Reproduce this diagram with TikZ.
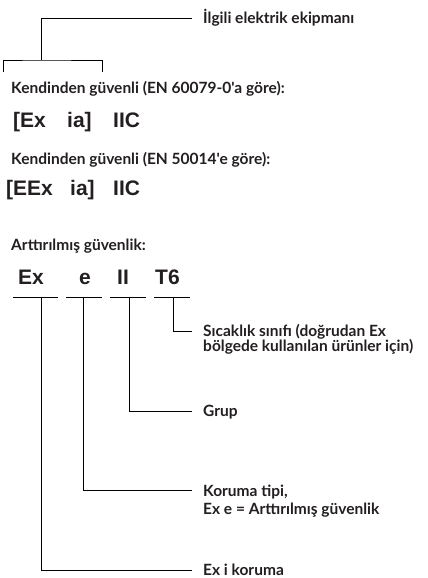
\documentclass[tikz,border=0pt]{standalone}
\usepackage{fontspec}
\newfontfamily\labfont{Lato}
\newfontfamily\bigfont{Liberation Sans}
\definecolor{ink}{HTML}{231F20}
\begin{document}
\begin{tikzpicture}[x=1pt,y=-1pt,
  lab/.style={inner sep=0pt,anchor=base west,text=ink,font=\labfont\bfseries\fontsize{15.5}{18}\selectfont},
  big/.style={inner sep=0pt,anchor=base west,text=ink,font=\bigfont\bfseries\fontsize{21}{24}\selectfont},
  conn/.style={draw=black,line width=0.9pt}]
\useasboundingbox (0,0) rectangle (428,578);
% top
\node[lab] (ilgili) at (203,23.5) {İlgili elektrik ekipmanı};
\coordinate (ilgiliEnd) at (192,18.5);
\coordinate (brMid) at (41,60);
\coordinate (brL) at (3,72);
\coordinate (brR) at (102,72);
\draw[conn] (brL) |- (brMid) -| (brR);
\draw[conn] (brMid) |- (ilgiliEnd);
% first
\node[lab] (k1) at (11,93.3) {Kendinden güvenli (EN 60079-0'a göre):};
\node[big] (a1) at (13,127) {[Ex};
\node[big] (a2) at (67,127) {ia]};
\node[big] (a3) at (113,127) {IIC};
% second
\node[lab] (k2) at (11,164.5) {Kendinden güvenli (EN 50014'e göre):};
\node[big] (b1) at (6,195) {[EEx};
\node[big] (b2) at (70,195) {ia]};
\node[big] (b3) at (113,195) {IIC};
% third
\node[lab] (art) at (11,250) {Arttırılmış güvenlik:};
\node[big] (ex) at (18,284) {Ex};
\node[big] (e) at (79,284) {e};
\node[big] (ii) at (117,284) {II};
\node[big] (t6) at (155,284) {T6};
% underlines
\coordinate (u1a) at (13,297.7); \coordinate (u1b) at (58,297.7);
\coordinate (u2a) at (66,297.7); \coordinate (u2b) at (102,297.7);
\coordinate (u3a) at (110,297.7); \coordinate (u3b) at (146,297.7);
\coordinate (u4a) at (154,297.7); \coordinate (u4b) at (190,297.7);
\draw[conn,line width=0.6pt] (u1a) -- (u1b) (u2a) -- (u2b) (u3a) -- (u3b) (u4a) -- (u4b);
% drop lines
\coordinate (exTop) at (41,297.7); \coordinate (exEnd) at (192,570);
\coordinate (eTop) at (83,297.7); \coordinate (eEnd) at (192,490.7);
\coordinate (iiTop) at (129,297.7); \coordinate (iiEnd) at (192,411);
\coordinate (tTop) at (173,297.7); \coordinate (tEnd) at (192,331.7);
\draw[conn] (exTop) |- (exEnd);
\draw[conn] (eTop) |- (eEnd);
\draw[conn] (iiTop) |- (iiEnd);
\draw[conn] (tTop) |- (tEnd);
% labels
\node[lab] (s1) at (203,336) {Sıcaklık sınıfı (doğrudan Ex};
\node[lab] (s2) at (203,351.7) {bölgede kullanılan ürünler için)};
\node[lab] (grup) at (203,416.5) {Grup};
\node[lab] (kor1) at (203,496.5) {Koruma tipi,};
\node[lab] (kor2) at (203,514) {Ex e = Arttırılmış güvenlik};
\node[lab] (exi) at (203,575.5) {Ex i koruma};
\end{tikzpicture}
\end{document}
